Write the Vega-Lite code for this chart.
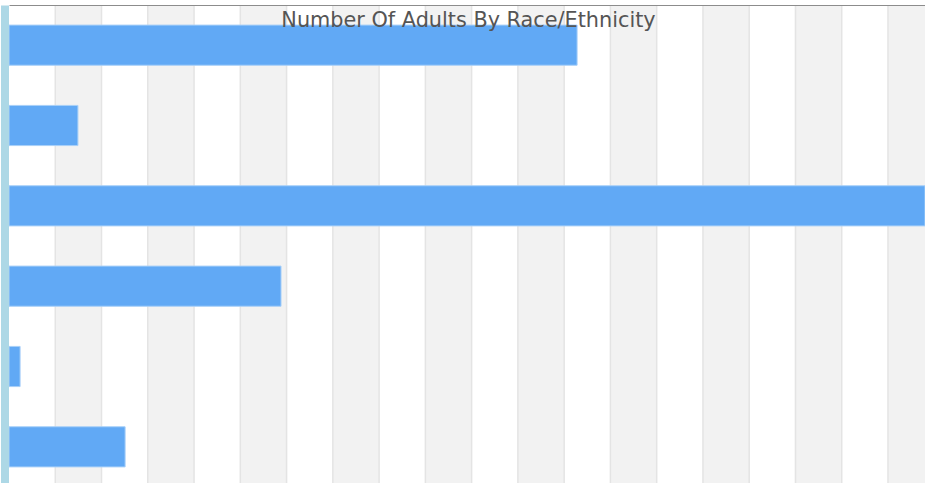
{
  "$schema": "https://vega.github.io/schema/vega-lite/v6.json",
  "autosize": {"type": "none"},
  "padding": {"left": 9, "top": 5, "right": 0, "bottom": 0},
  "width": 916,
  "height": 482,
  "background": "white",
  "title": {
    "text": "Number Of Adults By Race/Ethnicity",
    "font": "DejaVu Sans",
    "fontSize": 20.8,
    "fontWeight": "normal",
    "color": "#555555",
    "anchor": "middle",
    "baseline": "alphabetic",
    "offset": -43,
    "dx": 1.5
  },
  "config": {
    "view": {"stroke": null},
    "axis": {"labels": false, "ticks": false, "title": null, "grid": false}
  },
  "datasets": {
    "bars": [
      {"group": "Black", "adults": 12280},
      {"group": "Asian", "adults": 1490},
      {"group": "White", "adults": 19800},
      {"group": "Hispanic", "adults": 5880},
      {"group": "American Indian", "adults": 240},
      {"group": "Two or More Races", "adults": 2510}
    ],
    "bands": [
      {"b0": 1000, "b1": 2000},
      {"b0": 3000, "b1": 4000},
      {"b0": 5000, "b1": 6000},
      {"b0": 7000, "b1": 8000},
      {"b0": 9000, "b1": 10000},
      {"b0": 11000, "b1": 12000},
      {"b0": 13000, "b1": 14000},
      {"b0": 15000, "b1": 16000},
      {"b0": 17000, "b1": 18000},
      {"b0": 19000, "b1": 20000}
    ]
  },
  "layer": [
    {
      "data": {"name": "bands"},
      "mark": {"type": "rect", "color": "#f2f2f2", "clip": true},
      "encoding": {
        "x": {"field": "b0", "type": "quantitative", "scale": {"domain": [0, 19800], "nice": false},
              "axis": {"orient": "top", "domain": true, "domainColor": "#8c8c8c", "domainWidth": 1, "zindex": 2}},
        "x2": {"field": "b1"}
      }
    },
    {
      "data": {"name": "bands"},
      "mark": {"type": "rule", "color": "#e4e4e4", "strokeWidth": 1.5, "clip": true},
      "encoding": {"x": {"field": "b0", "type": "quantitative"}}
    },
    {
      "data": {"name": "bands"},
      "mark": {"type": "rule", "color": "#e4e4e4", "strokeWidth": 1.5, "clip": true},
      "encoding": {"x": {"field": "b1", "type": "quantitative"}}
    },
    {
      "data": {"name": "bars"},
      "mark": {"type": "bar", "color": "#61a9f5", "stroke": "#a9d0f8", "strokeWidth": 1, "clip": true},
      "encoding": {
        "y": {"field": "group", "type": "nominal", "sort": null,
              "scale": {"paddingInner": 0.5, "paddingOuter": 0.25},
              "axis": {"orient": "left", "domain": true, "domainColor": "#add8e6", "domainWidth": 8, "offset": 4.5}},
        "x": {"field": "adults", "type": "quantitative"}
      }
    }
  ]
}
